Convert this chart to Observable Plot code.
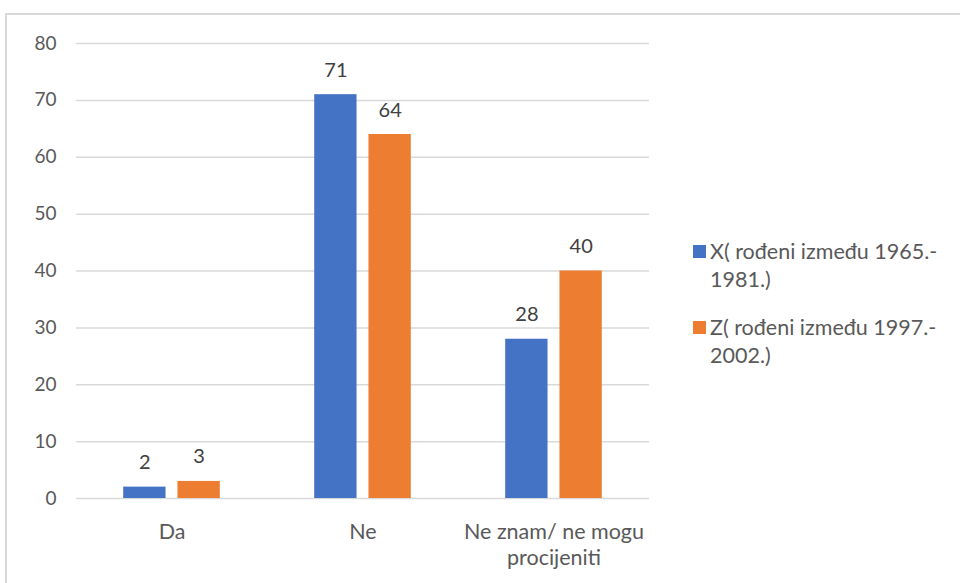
<!DOCTYPE html>
<html>
<head>
<meta charset="utf-8">
<script src="https://cdn.jsdelivr.net/npm/d3@7"></script>
<script src="https://cdn.jsdelivr.net/npm/@observablehq/plot@0.6"></script>
<style>
  html, body { margin: 0; padding: 0; background: #fff; }
  #wrap { position: relative; width: 960px; height: 583px; overflow: hidden; font-family: Lato, "Open Sans", sans-serif; }
  #border { position: absolute; left: 5px; top: 13px; width: 1000px; height: 1000px; border-left: 2px solid #d9d9d9; border-top: 2px solid #d9d9d9; box-sizing: border-box; }
  #chart { position: absolute; left: 0; top: 0; }
  .legend { position: absolute; left: 693px; }
  .item { position: relative; font-size: 21.5px; line-height: 28px; color: #595959; padding-left: 17px; white-space: nowrap; }
  .sw { position: absolute; left: 0; top: 8px; width: 13px; height: 13px; }
</style>
</head>
<body>
<div id="wrap">
  <div id="border"></div>
  <div id="chart"></div>
  <div class="legend" id="legend"></div>
</div>
<script>
const categories = ["Da", "Ne", "Ne znam/ ne mogu procijeniti"];
const series = ["X( rođeni između 1965.-1981.)", "Z( rođeni između 1997.-2002.)"];
const valuesX = [2, 71, 28];
const valuesZ = [3, 64, 40];
const colors = ["#4472C4", "#ED7D31"];
const yTicks = [0, 10, 20, 30, 40, 50, 60, 70, 80];

const data = [];
categories.forEach((c, i) => {
  data.push({cat: c, series: series[0], value: valuesX[i]});
  data.push({cat: c, series: series[1], value: valuesZ[i]});
});

const labelFormat = (c) => c === "Ne znam/ ne mogu procijeniti" ? "Ne znam/ ne mogu\nprocijeniti" : c;

const chart = Plot.plot({
  width: 960,
  height: 583,
  marginLeft: 75,
  marginRight: 310,
  marginTop: 43,
  marginBottom: 85,
  style: {fontFamily: "Lato, 'Open Sans', sans-serif", background: "transparent", overflow: "visible"},
  fx: {domain: categories, padding: 0, label: null},
  x: {domain: series, paddingInner: 0.22, paddingOuter: 0.87, round: false, axis: null},
  y: {domain: [0, 80], label: null},
  color: {domain: series, range: colors},
  marks: [
    Plot.gridY(yTicks, {stroke: "#d9d9d9", strokeOpacity: 1, strokeWidth: 1.5}),
    Plot.axisY(yTicks, {tickSize: 0, tickPadding: 20, fontSize: 19, fill: "#595959", label: null}),
    Plot.axisFx({anchor: "bottom", tickSize: 0, tickPadding: 21, fontSize: 21.5, fill: "#595959", label: null, tickFormat: labelFormat, lineHeight: 1.25}),
    Plot.barY(data, {fx: "cat", x: "series", y: "value", fill: "series"}),
    Plot.text(data, {fx: "cat", x: "series", y: "value", text: d => String(d.value), dy: -18, lineAnchor: "bottom", fontSize: 20, fill: "#404040"})
  ]
});
document.getElementById("chart").appendChild(chart);

const legend = document.getElementById("legend");
legend.style.top = "237px";
series.forEach((s, i) => {
  const item = document.createElement("div");
  item.className = "item";
  if (i > 0) item.style.marginTop = "20px";
  const sw = document.createElement("span");
  sw.className = "sw";
  sw.style.background = colors[i];
  item.appendChild(sw);
  const cut = s.indexOf("-") + 1;
  item.appendChild(document.createTextNode(s.slice(0, cut)));
  item.appendChild(document.createElement("br"));
  item.appendChild(document.createTextNode(s.slice(cut)));
  legend.appendChild(item);
});
</script>
</body>
</html>
